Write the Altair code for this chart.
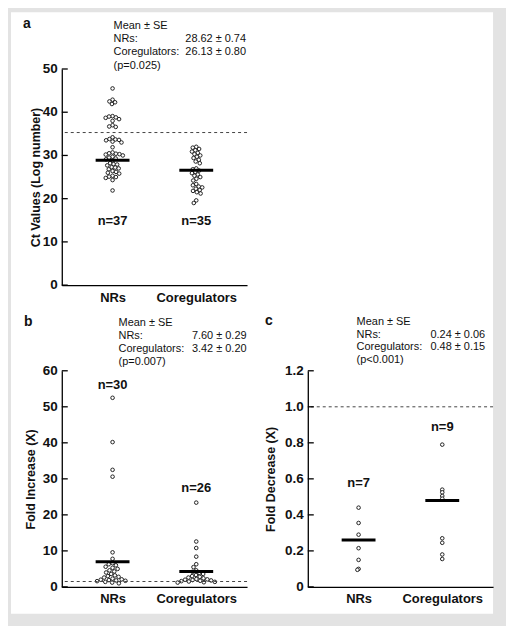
import math
import altair as alt
import pandas as pd

# ---------------- data ----------------
groups = ["NRs", "Coregulators"]

a_nrs = [45.5, 42.9, 42.5, 42.3, 41.9, 39.1, 39.0, 38.8, 38.7, 38.4, 38.0, 37.0, 36.7, 36.6,
         34.2, 33.8, 33.7, 33.6, 33.5, 33.2, 33.0, 31.9, 30.7, 30.5, 30.4, 30.3, 30.2, 30.0,
         29.7, 29.5, 29.3, 29.1, 28.8, 28.2, 28.0, 27.9, 27.7, 27.3, 27.2, 27.0, 26.8, 26.4,
         26.2, 26.0, 25.8, 25.3, 25.1, 25.0, 24.8, 24.3, 21.9]
a_coreg = [32.0, 31.8, 31.5, 31.2, 30.9, 30.6, 30.3, 30.0, 29.7, 29.4, 29.0, 28.6, 28.2,
           27.0, 26.8, 26.5, 26.2, 25.9, 25.6, 25.3, 25.0, 24.6, 24.2, 23.4, 23.1, 22.8,
           22.6, 22.3, 22.0, 21.8, 21.5, 21.2, 19.6, 19.0]
a_means = [28.9, 26.6]
a_cutoff = 35.3
a_n = ["n=37", "n=35"]
a_npos = [13.8, 13.8]
a_stats = ["Mean ± SE", "NRs:", "Coregulators:", "(p=0.025)"]
a_statvals = ["", "28.62 ± 0.74", "26.13 ± 0.80", ""]
a_ticks = [0, 10, 20, 30, 40, 50]
a_ticklabels = ["0", "10", "20", "30", "40", "50"]

b_nrs = [52.5, 40.2, 32.5, 30.6, 9.6, 7.8, 6.6, 6.3, 6.0, 5.6, 5.3, 5.0, 4.6, 4.3, 4.0,
         3.6, 3.2, 3.0, 2.8, 2.6, 2.3, 2.1, 2.0, 1.9, 1.8, 1.7, 1.6, 1.4, 1.2, 1.0]
b_coreg = [23.4, 12.6, 10.8, 8.4, 6.3, 5.5, 4.6, 4.2, 3.9, 3.6, 3.3, 3.0, 2.8, 2.6, 2.4,
           2.2, 2.1, 2.0, 1.9, 1.8, 1.7, 1.6, 1.5, 1.4, 1.3, 1.2]
b_means = [7.0, 4.3]
b_cutoff = 1.5
b_n = ["n=30", "n=26"]
b_npos = [54.9, 26.4]
b_stats = ["Mean ± SE", "NRs:", "Coregulators:", "(p=0.007)"]
b_statvals = ["", "7.60 ± 0.29", "3.42 ± 0.20", ""]
b_ticks = [0, 10, 20, 30, 40, 50, 60]
b_ticklabels = ["0", "10", "20", "30", "40", "50", "60"]

c_nrs = [0.44, 0.355, 0.29, 0.215, 0.15, 0.10, 0.095]
c_coreg = [0.79, 0.54, 0.525, 0.505, 0.49, 0.27, 0.245, 0.18, 0.155]
c_means = [0.26, 0.48]
c_cutoff = 1.0
c_n = ["n=7", "n=9"]
c_npos = [0.554, 0.863]
c_stats = ["Mean ± SE", "NRs:", "Coregulators:", "(p<0.001)"]
c_statvals = ["", "0.24 ± 0.06", "0.48 ± 0.15", ""]
c_ticks = [0, 0.2, 0.4, 0.6, 0.8, 1.0, 1.2]
c_ticklabels = ["0", "0.2", "0.4", "0.6", "0.8", "1.0", "1.2"]

# ---------------- layout helpers ----------------
W, H = 186, 217
XDOM = [0.393, 2.607]
PX_PER_X = W / (XDOM[1] - XDOM[0])
FONT = "Liberation Sans"


def swarm(values, ppu, d):
    """simple beeswarm: horizontal pixel offsets so points do not overlap"""
    order = sorted(range(len(values)), key=lambda i: -values[i])
    placed = []
    offs = [0.0] * len(values)
    for i in order:
        y = values[i] * ppu
        cands = [0.0]
        for px, py in placed:
            dy = abs(py - y)
            if dy < d:
                dx = math.sqrt(d * d - dy * dy)
                cands += [px + dx, px - dx]
        cands.sort(key=lambda c: (abs(c), c))
        for c in cands:
            if all((c - px) ** 2 + (y - py) ** 2 >= d * d - 1e-6 for px, py in placed):
                offs[i] = c
                break
        placed.append((offs[i], y))
    return offs


def panel(nrs, co, ymax, yticks, ylabels, d, means, cutoff, nlab, npos, letter, stats,
          statvals, ytitle, tpad, ann, frame=False):
    ppu = H / ymax
    rows = []
    for gi, vals in enumerate([nrs, co]):
        for v, o in zip(vals, swarm(vals, ppu, d)):
            rows.append({"x": gi + 1 + o / PX_PER_X, "y": v})
    pts = pd.DataFrame(rows)
    mdf = pd.DataFrame({"x": [1, 2], "y": means, "g": groups})
    ndf = pd.DataFrame({"x": [1, 2], "y": npos, "t": nlab})
    cdf = pd.DataFrame({"y": [cutoff]})
    tdf = pd.DataFrame({"y": yticks, "lab": ylabels})
    one = pd.DataFrame({"k": [0]})

    xs = alt.Scale(domain=XDOM, nice=False, zero=False)
    ys = alt.Scale(domain=[0, ymax], nice=False, zero=True)
    yaxis = alt.Axis(values=yticks, ticks=False, tickSize=0, labels=False, grid=False,
                     title=ytitle, titlePadding=tpad, titleFontSize=12.5,
                     titleFontWeight="bold", domainColor="black", domainWidth=1.3,
                     titleColor="#111", titleFont=FONT, zindex=2)
    xaxis = alt.Axis(values=[1, 2], labelExpr="datum.value == 1 ? 'NRs' : 'Coregulators'",
                     ticks=False, tickSize=0, labelPadding=6, title=None, grid=False,
                     labelFontSize=13, labelFontWeight="bold", domainColor="black",
                     domainWidth=1.3, labelColor="#111", labelFont=FONT,
                     labelOverlap=False, zindex=2)

    base_x = alt.X("x:Q", scale=xs, axis=xaxis)
    base_y = alt.Y("y:Q", scale=ys, axis=yaxis)

    layers = []
    if frame:
        layers.append(alt.Chart(one).mark_rect(color="white").encode(
            x=alt.value(-51), x2=alt.value(433), y=alt.value(-57), y2=alt.value(547)))
    layers.append(alt.Chart(pts).mark_point(shape="circle", size=13, fill="white",
                                           stroke="#222", strokeWidth=1, opacity=1,
                                           fillOpacity=1).encode(x=base_x, y=base_y))
    layers.append(alt.Chart(cdf).mark_rule(color="#444", strokeWidth=1,
                                           strokeDash=[3, 3]).encode(y=alt.Y("y:Q", scale=ys)))
    layers.append(alt.Chart(mdf).mark_tick(orient="horizontal", thickness=3, size=34,
                                           color="black", opacity=1).encode(
        x=alt.X("x:Q", scale=xs), y=alt.Y("y:Q", scale=ys)))
    layers.append(alt.Chart(ndf).mark_text(font=FONT, fontSize=13, fontWeight="bold",
                                           color="#111", baseline="alphabetic",
                                           align="center").encode(
        x=alt.X("x:Q", scale=xs), y=alt.Y("y:Q", scale=ys), text="t:N"))
    # inward tick marks and tick labels of the y axis
    layers.append(alt.Chart(tdf).mark_rule(color="black", strokeWidth=1.3).encode(
        y=alt.Y("y:Q", scale=ys), x=alt.value(0), x2=alt.value(6)))
    layers.append(alt.Chart(tdf).mark_text(font=FONT, fontSize=13.5, fontWeight="bold",
                                           color="#111", align="right",
                                           baseline="middle").encode(
        y=alt.Y("y:Q", scale=ys), x=alt.value(-4), text="lab:N"))
    lx, ly, sx, sy, vx, lh = ann
    layers.append(alt.Chart(one).mark_text(text=letter, font=FONT, fontSize=14,
                                           fontWeight="bold", align="left",
                                           baseline="alphabetic", color="#111").encode(
        x=alt.value(lx), y=alt.value(ly)))
    layers.append(alt.Chart(one).mark_text(text="\n".join(stats), lineBreak="\n",
                                           lineHeight=lh, font=FONT, fontSize=11,
                                           align="left", baseline="alphabetic",
                                           color="#111").encode(
        x=alt.value(sx), y=alt.value(sy)))
    layers.append(alt.Chart(one).mark_text(text="\n".join(statvals), lineBreak="\n",
                                           lineHeight=lh, font=FONT, fontSize=11,
                                           align="right", baseline="alphabetic",
                                           color="#111").encode(
        x=alt.value(vx), y=alt.value(sy)))
    return alt.layer(*layers).properties(width=W, height=H)


pa = panel(a_nrs, a_coreg, 50, a_ticks, a_ticklabels, 3.6, a_means, a_cutoff, a_n, a_npos,
           "a", a_stats, a_statvals, "Ct Values (Log number)", 19,
           (-39, -41, 52, -40, 185, 13.2), frame=True)
pb = panel(b_nrs, b_coreg, 60, b_ticks, b_ticklabels, 4.0, b_means, b_cutoff, b_n, b_npos,
           "b", b_stats, b_statvals, "Fold Increase (X)", 24,
           (-38, -45, 57, -44.5, 185.5, 12.8))
pc = panel(c_nrs, c_coreg, 1.2, c_ticks, c_ticklabels, 1.5, c_means, c_cutoff, c_n, c_npos,
           "c", c_stats, c_statvals, "Fold Decrease (X)", 30,
           (-43, -46, 49, -46, 178, 12.8))

row2 = alt.hconcat(pb, pc, spacing=61, bounds="flush")
chart = alt.vconcat(pa, row2, spacing=86, bounds="flush").properties(
    background="#e3e3e3",
    padding={"left": 3, "top": 3, "right": 12, "bottom": 11},
).configure_view(stroke=None)

chart.save("out.html", embed_options={"renderer": "svg", "actions": False})
